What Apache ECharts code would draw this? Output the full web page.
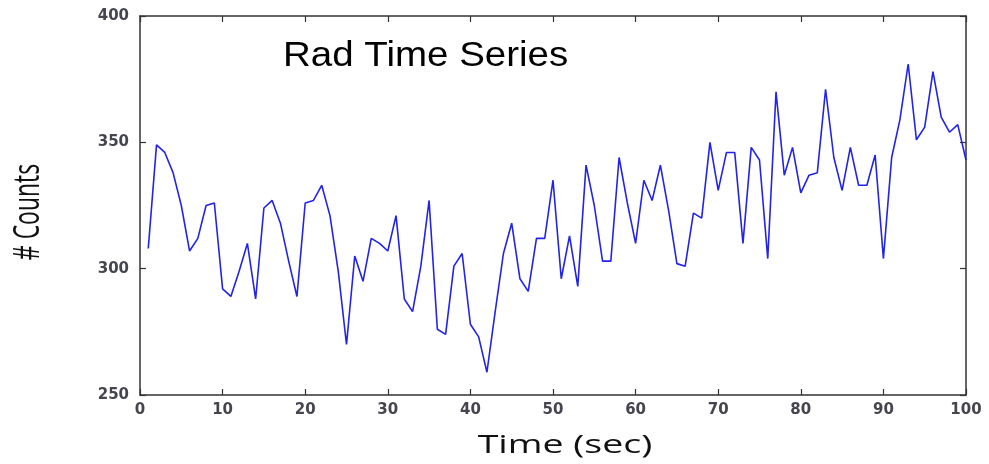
<!DOCTYPE html>
<html>
<head>
<meta charset="utf-8">
<script src="https://cdn.jsdelivr.net/npm/echarts@6/dist/echarts.min.js"></script>
<style>
	html, body { margin: 0; padding: 0; background: #fff; }
	#radChart { width: 989px; height: 464px; }
</style>
</head>
<body>
<div id="radChart"></div>
<script type="text/javascript">
	// time stamps (sec) and counts
	var seconds = [1, 2, 3, 4, 5, 6, 7, 8, 9, 10, 11, 12, 13, 14, 15, 16, 17, 18, 19, 20,
		21, 22, 23, 24, 25, 26, 27, 28, 29, 30, 31, 32, 33, 34, 35, 36, 37, 38, 39, 40,
		41, 42, 43, 44, 45, 46, 47, 48, 49, 50, 51, 52, 53, 54, 55, 56, 57, 58, 59, 60,
		61, 62, 63, 64, 65, 66, 67, 68, 69, 70, 71, 72, 73, 74, 75, 76, 77, 78, 79, 80,
		81, 82, 83, 84, 85, 86, 87, 88, 89, 90, 91, 92, 93, 94, 95, 96, 97, 98, 99, 100];
	var counts = [308, 349, 346, 338, 325, 307, 312, 325, 326, 292, 289, 299, 310, 288, 324, 327, 318, 303, 289, 326,
		327, 333, 321, 299, 270, 305, 295, 312, 310, 307, 321, 288, 283, 301, 327, 276, 274, 301, 306, 278,
		273, 259, 283, 306, 318, 296, 291, 312, 312, 335, 296, 313, 293, 341, 325, 303, 303, 344, 326, 310,
		335, 327, 341, 323, 302, 301, 322, 320, 350, 331, 346, 346, 310, 348, 343, 304, 370, 337, 348, 330,
		337, 338, 371, 344, 331, 348, 333, 333, 345, 304, 344, 359, 381, 351, 356, 378, 360, 354, 357, 343];
	var xTicks = [0, 100, 10];   // min, max, step
	var yTicks = [250, 400, 50];

	var points = [];
	for (var i = 0; i < seconds.length; i++) {
		points.push([seconds[i], counts[i]]);
	}

	var lineCol = '#2222ee';
	var frameCol = '#333';
	var labelStyle = { color: '#454550', fontFamily: 'DejaVu Sans', fontWeight: 'bold', fontSize: 15 };

	function xAx(pos, showLabel) {
		return {
			type: 'value', position: pos, min: xTicks[0], max: xTicks[1], interval: xTicks[2],
			axisLine: { show: true, onZero: false, lineStyle: { color: frameCol, width: 1.5 } },
			axisTick: { show: true, inside: true, length: 6, lineStyle: { color: frameCol, width: 1.2 } },
			axisLabel: Object.assign({ show: showLabel, margin: 8 }, labelStyle),
			splitLine: { show: false }
		};
	}
	function yAx(pos, showLabel) {
		return {
			type: 'value', position: pos, min: yTicks[0], max: yTicks[1], interval: yTicks[2],
			axisLine: { show: true, onZero: false, lineStyle: { color: frameCol, width: 1.5 } },
			axisTick: { show: true, inside: true, length: 6, lineStyle: { color: frameCol, width: 1.2 } },
			axisLabel: Object.assign({ show: showLabel, margin: 11 }, labelStyle),
			splitLine: { show: false }
		};
	}

	var myChart = echarts.init(document.getElementById('radChart'));
	var option = {
		backgroundColor: '#fff',
		animation: false,
		grid: { left: 140, right: 23, top: 16, bottom: 69 },
		xAxis: [xAx('bottom', true), xAx('top', false)],
		yAxis: [yAx('left', true), yAx('right', false)],
		graphic: [
			{ type: 'text', x: 283, y: 56, scaleX: 1.1,
				style: { text: 'Rad Time Series', fill: '#000', font: '35px "Liberation Sans"', textAlign: 'left', textVerticalAlign: 'middle' } },
			{ type: 'text', x: 565, y: 446, scaleX: 1.5,
				style: { text: 'Time (sec)', fill: '#111', font: '25px "Open Sans"', textAlign: 'center', textVerticalAlign: 'middle' } },
			{ type: 'text', x: 28, y: 212, rotation: Math.PI / 2, scaleX: 0.62,
				style: { text: '# Counts', fill: '#111', font: '37px "Open Sans"', textAlign: 'center', textVerticalAlign: 'middle' } }
		],
		series: [{
			name: 'counts',
			type: 'line',
			xAxisIndex: 0,
			yAxisIndex: 0,
			data: points,
			showSymbol: false,
			lineStyle: { color: lineCol, width: 1.6 }
		}]
	};
	myChart.setOption(option);
</script>
</body>
</html>
